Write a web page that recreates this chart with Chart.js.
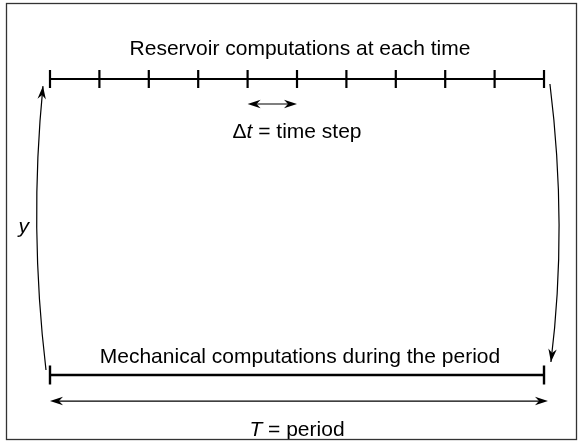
<!DOCTYPE html>
<html>
<head>
<meta charset="utf-8">
<script src="https://cdn.jsdelivr.net/npm/chart.js@4.4.0/dist/chart.umd.min.js"></script>
<style>
  body { margin: 0; background: #fff; }
  canvas { display: block; }
</style>
</head>
<body>
<canvas id="diagram" width="582" height="446"></canvas>
<script>
// time steps where the reservoir computations are done
const timeSteps = [0, 1, 2, 3, 4, 5, 6, 7, 8, 9, 10];
// the mechanical computations only use both ends of the period
const periodEnds = [0, 10];
// the step picked out for the delta t bracket
const stepShown = [4, 5];
const levels = { reservoir: 1, mechanical: 0 };

const captions = {
    reservoir: [['Reservoir computations at each time', false]],
    mechanical: [['Mechanical computations during the period', false]],
    step: [['\u0394', false], ['t', true], [' = time step', false]],
    period: [['T', true], [' = period', false]],
    y: [['y', true]]
};

// where the annotations sit, in data units (x = time step, y = level)
const place = {
    textX: 5.06,
    reservoirText: 1.081,
    stepArrow: 0.9155,
    stepText: 0.80,
    stepTextX: 5.0,
    mechanicalText: 0.04,
    periodArrow: -0.088,
    periodArrowEnd: 10.08,
    periodText: -0.205,
    periodTextX: 5.0,
    yLabel: [-0.53, 0.5],
    upCurve: [[-0.081, 0.017], [-0.425, 0.5], [-0.142, 0.976]],
    downCurve: [[10.12, 0.983], [10.48, 0.5], [10.14, 0.044]]
};

const FONT = '"Liberation Sans", Arial, Helvetica, sans-serif';
const FONT_SIZE = 21;

function arrowHead(ctx, tx, ty, fx, fy) {
    const a = Math.atan2(ty - fy, tx - fx);
    ctx.save();
    ctx.translate(tx, ty);
    ctx.rotate(a);
    ctx.beginPath();
    ctx.moveTo(0, 0);
    ctx.lineTo(-13, -4.2);
    ctx.lineTo(-9, 0);
    ctx.lineTo(-13, 4.2);
    ctx.closePath();
    ctx.fill();
    ctx.restore();
}

function doubleArrow(ctx, x1, x2, y) {
    ctx.beginPath();
    ctx.moveTo(x1 + 9, y);
    ctx.lineTo(x2 - 9, y);
    ctx.stroke();
    arrowHead(ctx, x1, y, x2, y);
    arrowHead(ctx, x2, y, x1, y);
}

function curveArrow(ctx, pts) {
    ctx.beginPath();
    ctx.moveTo(pts[0][0], pts[0][1]);
    ctx.quadraticCurveTo(pts[1][0], pts[1][1], pts[2][0], pts[2][1]);
    ctx.stroke();
    arrowHead(ctx, pts[2][0], pts[2][1], pts[1][0], pts[1][1]);
}

function drawRuns(ctx, runs, cx, baseline) {
    const fontFor = it => (it ? 'italic ' : '') + FONT_SIZE + 'px ' + FONT;
    let total = 0;
    runs.forEach(r => { ctx.font = fontFor(r[1]); total += ctx.measureText(r[0]).width; });
    let x = cx - total / 2;
    ctx.textBaseline = 'alphabetic';
    ctx.textAlign = 'left';
    runs.forEach(r => {
        ctx.font = fontFor(r[1]);
        ctx.fillText(r[0], x, baseline);
        x += ctx.measureText(r[0]).width;
    });
}

const annotations = {
    id: 'annotations',
    beforeDraw(chart) {
        const ctx = chart.ctx;
        ctx.save();
        ctx.fillStyle = '#fff';
        ctx.fillRect(0, 0, chart.width, chart.height);
        ctx.restore();
    },
    afterDraw(chart) {
        const ctx = chart.ctx;
        const xs = chart.scales.x, ys = chart.scales.y;
        const px = v => xs.getPixelForValue(v);
        const py = v => ys.getPixelForValue(v);
        const pt = p => [px(p[0]), py(p[1])];

        ctx.save();
        ctx.fillStyle = '#000';
        ctx.strokeStyle = '#000';
        ctx.lineWidth = 1.2;

        doubleArrow(ctx, px(stepShown[0]), px(stepShown[1]), py(place.stepArrow));
        doubleArrow(ctx, px(periodEnds[0]), px(place.periodArrowEnd), py(place.periodArrow));
        curveArrow(ctx, place.upCurve.map(pt));
        curveArrow(ctx, place.downCurve.map(pt));

        drawRuns(ctx, captions.reservoir, px(place.textX), py(place.reservoirText));
        drawRuns(ctx, captions.step, px(place.stepTextX), py(place.stepText));
        drawRuns(ctx, captions.mechanical, px(place.textX), py(place.mechanicalText));
        drawRuns(ctx, captions.period, px(place.periodTextX), py(place.periodText));
        ctx.font = 'italic ' + FONT_SIZE + 'px ' + FONT;
        ctx.textAlign = 'center';
        ctx.textBaseline = 'middle';
        ctx.fillText(captions.y[0][0], px(place.yLabel[0]), py(place.yLabel[1]));

        // frame round the figure
        ctx.strokeStyle = '#333';
        ctx.lineWidth = 1.3;
        ctx.strokeRect(6.5, 3.5, 570, 436);
        ctx.restore();
    }
};

new Chart(document.getElementById('diagram'), {
    type: 'scatter',
    data: {
        datasets: [
            {
                data: timeSteps.map(s => ({ x: s, y: levels.reservoir })),
                showLine: true,
                borderColor: '#000',
                borderWidth: 2.2,
                pointStyle: 'line',
                rotation: 90,
                pointRadius: 9,
                pointBorderWidth: 2.2,
                pointBorderColor: '#000'
            },
            {
                data: periodEnds.map(s => ({ x: s, y: levels.mechanical })),
                showLine: true,
                borderColor: '#000',
                borderWidth: 2.4,
                pointStyle: 'line',
                rotation: 90,
                pointRadius: 9.5,
                pointBorderWidth: 2.4,
                pointBorderColor: '#000'
            }
        ]
    },
    options: {
        responsive: false,
        animation: false,
        events: [],
        layout: { padding: 0, autoPadding: false },
        scales: {
            x: { type: 'linear', display: false, min: -1.012, max: 10.769 },
            y: { type: 'linear', display: false, min: -0.2399, max: 1.2669 }
        },
        plugins: {
            legend: { display: false },
            tooltip: { enabled: false }
        }
    },
    plugins: [annotations]
});
</script>
</body>
</html>
